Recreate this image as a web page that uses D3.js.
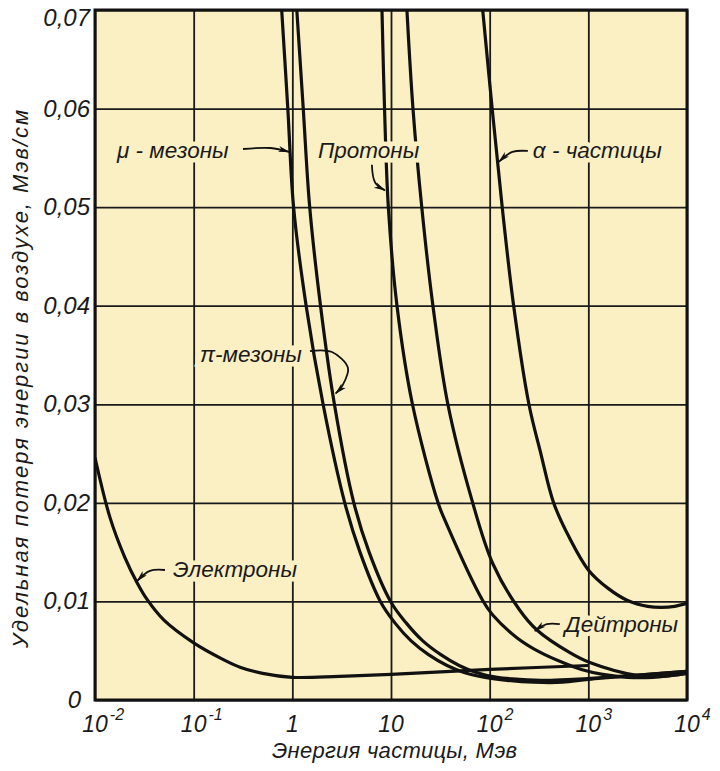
<!DOCTYPE html>
<html><head><meta charset="utf-8">
<script src="https://cdn.jsdelivr.net/npm/d3@7"></script>
<style>
body{margin:0;background:#fff;}
svg text{font-family:"Liberation Sans",Arial,sans-serif;font-style:italic;fill:#1a1a1a;}
</style></head><body>
<svg id="c" width="720" height="771"></svg>
<script>
// ---- data ----
const xTicks = [0.01, 0.1, 1, 10, 100, 1000, 10000];
const xTickBase = ["10", "10", "1", "10", "10", "10", "10"];
const xTickExp = ["-2", "-1", "", "", "2", "3", "4"];
const yTicks = [0, 0.01, 0.02, 0.03, 0.04, 0.05, 0.06, 0.07];
const yTickLabels = ["0", "0,01", "0,02", "0,03", "0,04", "0,05", "0,06", "0,07"];

// [energy, MeV ; specific loss, MeV/cm]
const electrons = [[0.01,0.0246],[0.0142,0.0185],[0.02,0.0145],[0.0267,0.0119],[0.0337,0.0102],[0.05,0.0081],[0.1,0.0058],[0.2,0.0041],[0.3,0.0033],[0.5,0.0027],[1,0.0023],[3,0.0024],[10,0.0026],[100,0.0031],[1000,0.0035]];
const muMesons = [[0.78,0.070],[0.90,0.060],[1.03,0.050],[1.38,0.040],[2.05,0.030],[3.4,0.020],[4.85,0.015],[7.8,0.010],[11,0.0078],[16,0.0060],[24,0.0046],[37,0.0035],[55,0.0028],[90,0.0023],[150,0.0020],[280,0.0018],[550,0.0018],[1000,0.0021],[3000,0.0025],[10000,0.0029]];
const piMesons = [[1.11,0.070],[1.29,0.060],[1.5,0.050],[1.93,0.040],[2.67,0.030],[4.2,0.020],[6.0,0.015],[9.9,0.010],[14.3,0.0078],[21,0.0060],[32,0.0046],[49,0.0035],[73,0.0028],[119,0.0023],[200,0.0021],[380,0.0020],[700,0.0021],[1500,0.0023],[3000,0.0025],[10000,0.0029]];
const protons = [[8.1,0.070],[8.6,0.060],[9.4,0.050],[11.5,0.040],[16.5,0.030],[30,0.020],[35,0.0183],[85,0.0101],[108,0.0086],[190,0.0063],[330,0.0048],[550,0.0038],[850,0.0031],[1400,0.0026],[2500,0.0023],[4500,0.0023],[7000,0.0025],[10000,0.0027]];
const deuterons = [[14.5,0.070],[16.7,0.060],[20.5,0.050],[26.6,0.040],[37.7,0.030],[66,0.0203],[108,0.0138],[202,0.0091],[301,0.0071],[650,0.0048],[1035,0.0038],[3090,0.0025],[5500,0.0024],[10000,0.0027]];
const alphas = [[85,0.070],[106,0.060],[134,0.050],[175,0.040],[250,0.030],[330,0.025],[445,0.020],[640,0.0165],[1000,0.0132],[1600,0.0113],[2500,0.0101],[4000,0.0095],[5500,0.0094],[7500,0.0095],[10000,0.0098]];

const seriesList = [electrons, muMesons, piMesons, protons, deuterons, alphas];

// annotations in data coordinates: label start, arrow path points
const labels = [
  {text:"μ - мезоны", at:[0.0167,0.0550], arrow:[[0.316,0.0559],[0.6,0.0560],[0.93,0.0556]]},
  {text:"Протоны", at:[1.82,0.0550], arrow:[[6.4,0.0543],[6.9,0.0525],[8.67,0.0517]]},
  {text:"α - частицы", at:[274,0.0550], arrow:[[244,0.0557],[170,0.0556],[124,0.0546]]},
  {text:"π-мезоны", at:[0.116,0.0343], arrow:[[1.51,0.0354],[2.52,0.0353],[3.66,0.0337],[3.26,0.0320],[2.75,0.0311]]},
  {text:"Электроны", at:[0.0616,0.01248], arrow:[[0.0512,0.01319],[0.036,0.0131],[0.0267,0.01207]]},
  {text:"Дейтроны", at:[578,0.0069], arrow:[[514,0.0077],[380,0.0077],[287,0.0070]]}
];

// ---- drawing ----
const svg = d3.select("#c");
const L=95, R=687, T=10, B=700;
const bg = "#fbf0c3";
const x = d3.scaleLog().domain([0.01,10000]).range([L,R]);
const y = d3.scaleLinear().domain([0,0.07]).range([B,T]);

svg.append("rect").attr("x",L).attr("y",T).attr("width",R-L).attr("height",B-T).attr("fill",bg);

// grid
svg.append("g").attr("transform",`translate(0,${B})`)
  .call(d3.axisBottom(x).tickValues(xTicks).tickSize(-(B-T)).tickFormat(""))
  .call(g=>g.select(".domain").remove())
  .call(g=>g.selectAll("line").attr("stroke","#1a1a1a").attr("stroke-width",1.8));
svg.append("g").attr("transform",`translate(${L},0)`)
  .call(d3.axisLeft(y).tickValues(yTicks).tickSize(-(R-L)).tickFormat(""))
  .call(g=>g.select(".domain").remove())
  .call(g=>g.selectAll("line").attr("stroke","#1a1a1a").attr("stroke-width",1.8));

const defs = svg.append("defs");
defs.append("clipPath").attr("id","clip")
  .append("rect").attr("x",L).attr("y",T).attr("width",R-L).attr("height",B-T);

const line = d3.line().x(d=>x(d[0])).y(d=>y(d[1])).curve(d3.curveCatmullRom.alpha(0.5));
svg.append("g").attr("clip-path","url(#clip)")
  .selectAll("path").data(seriesList).join("path")
  .attr("d",line).attr("fill","none").attr("stroke","#111").attr("stroke-width",3.2)
  .attr("stroke-linejoin","round");

// labels with halo (the grid and curves are interrupted behind them)
svg.append("g").selectAll("text").data(labels).join("text")
  .attr("x",d=>x(d.at[0])).attr("y",d=>y(d.at[1]))
  .attr("font-size",22.5)
  .attr("stroke",bg).attr("stroke-width",9).attr("paint-order","stroke")
  .text(d=>d.text);

// arrows
defs.append("marker").attr("id","ah").attr("viewBox","0 0 12 8").attr("refX",11).attr("refY",4)
  .attr("markerWidth",12).attr("markerHeight",8).attr("markerUnits","userSpaceOnUse").attr("orient","auto")
  .append("path").attr("d","M0,1 L12,4 L0,7 L3,4 z").attr("fill","#111");
const arrowLine = d3.line().x(d=>x(d[0])).y(d=>y(d[1])).curve(d3.curveCatmullRom.alpha(0.5));
svg.append("g").selectAll("path").data(labels).join("path")
  .attr("d",d=>arrowLine(d.arrow)).attr("fill","none").attr("stroke","#111").attr("stroke-width",1.8)
  .attr("marker-end","url(#ah)");

// frame
svg.append("rect").attr("x",L).attr("y",T).attr("width",R-L).attr("height",B-T)
  .attr("fill","none").attr("stroke","#111").attr("stroke-width",3);

// y tick labels
svg.append("g").selectAll("text").data(yTicks).join("text")
  .attr("x",(d,i)=>i===0?L-14:L-5).attr("y",(d,i)=>y(d)+(i===yTicks.length-1?16:8))
  .attr("text-anchor","end").attr("font-size",24)
  .text((d,i)=>yTickLabels[i]);

// x tick labels
const xl = svg.append("g");
xTicks.forEach((t,i)=>{
  const base = xl.append("text").attr("x",x(t)).attr("y",732).attr("text-anchor","middle")
    .attr("font-size",23).text(xTickBase[i]);
  if(xTickExp[i]){
    const w = base.node().getComputedTextLength();
    xl.append("text").attr("x",x(t)+w/2+2).attr("y",720).attr("font-size",16).text(xTickExp[i]);
  }
});

// axis titles
svg.append("text").attr("x",272).attr("y",758).attr("font-size",22)
  .attr("textLength",245).attr("lengthAdjust","spacing").text("Энергия частицы, Мэв");
svg.append("text").attr("transform","translate(28,648) rotate(-90)").attr("font-size",22)
  .attr("textLength",538).attr("lengthAdjust","spacing").text("Удельная потеря энергии в воздухе, Мэв/см");
</script>
</body></html>
